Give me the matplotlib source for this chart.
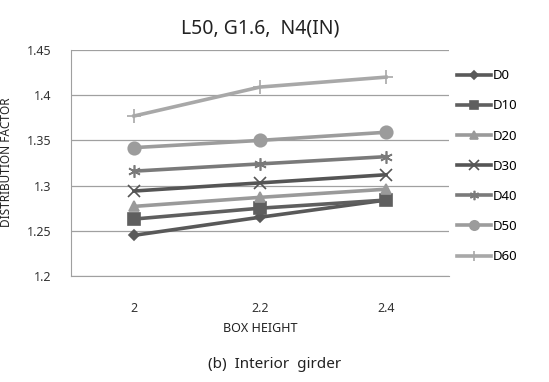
import matplotlib
matplotlib.use('Agg')
import matplotlib.pyplot as plt
import numpy as np

# box height categories
heights = ['2', '2.2', '2.4']
d0 = [1.245, 1.265, 1.284]
d10 = [1.263, 1.275, 1.284]
d20 = [1.277, 1.287, 1.296]
d30 = [1.294, 1.303, 1.312]
d40 = [1.316, 1.324, 1.332]
d50 = [1.342, 1.350, 1.359]
d60 = [1.377, 1.409, 1.420]
labels = ['D0', 'D10', 'D20', 'D30', 'D40', 'D50', 'D60']

plt.rcParams['font.family'] = ['Noto Sans', 'DejaVu Sans']

series = [d0, d10, d20, d30, d40, d50, d60]
colors = ['#595959', '#5f5f5f', '#9a9a9a', '#555555', '#7a7a7a', '#9c9c9c', '#a8a8a8']
markers = ['D', 's', '^', 'x', (6, 2, 0), 'o', '+']
msizes = [5, 8, 7, 9, 9, 9, 10]

fig = plt.figure(figsize=(5.49, 3.82), dpi=100)
ax = fig.add_axes([71/549, 1-276/382, 378/549, 226/382])
x = np.arange(len(heights))
for s, lab, c, m, ms in zip(series, labels, colors, markers, msizes):
    ax.plot(x, s, color=c, marker=m, markersize=ms, linewidth=2.6,
            markeredgewidth=1.2, label=lab)

ax.set_xlim(-0.5, 2.5)
ax.set_ylim(1.2, 1.45)
ax.set_yticks([1.2, 1.25, 1.3, 1.35, 1.4, 1.45])
ax.set_yticklabels(['1.2', '1.25', '1.3', '1.35', '1.4', '1.45'])
ax.set_xticks(x)
ax.set_xticklabels(heights)
ax.yaxis.grid(True, color='#a0a0a0', linewidth=0.9)
ax.set_axisbelow(True)
for sp in ['top', 'right']:
    ax.spines[sp].set_visible(False)
ax.spines['left'].set_color('#a0a0a0')
ax.spines['bottom'].set_color('#a0a0a0')
ax.tick_params(axis='both', length=0, labelsize=9, colors='#333333')
ax.tick_params(axis='x', pad=19)
ax.tick_params(axis='y', pad=14)

ax.set_title('L50, G1.6,  N4(IN)', fontsize=14, pad=12, color='#222222')
ax.set_xlabel('BOX HEIGHT', fontsize=9, color='#222222', labelpad=5)
fig.text(0.0, 1-162/382, 'DISTRIBUTION FACTOR', rotation=90,
         fontsize=8.5, color='#222222', ha='left', va='center')
fig.text(0.5, 1-364/382, '(b)  Interior  girder', fontsize=11, color='#222222',
         ha='center', va='center')

ax.legend(loc='upper left', bbox_to_anchor=(1.0, 0.95), frameon=False,
          fontsize=9.5, handlelength=2.6, handletextpad=0.1, labelspacing=1.3,
          borderaxespad=0.2, markerscale=0.75)

fig.savefig('out.png', dpi=100)
